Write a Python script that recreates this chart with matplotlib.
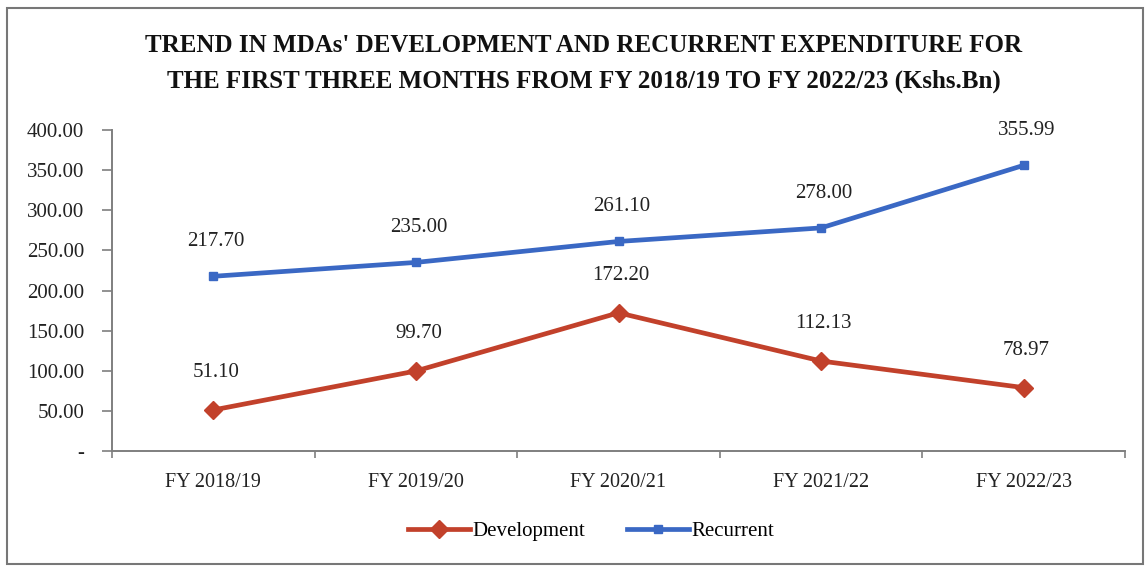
import matplotlib.pyplot as plt
import numpy as np
from matplotlib.patches import Rectangle

# MDAs development vs recurrent expenditure, first three months (Kshs.Bn)

years = ["FY 2018/19", "FY 2019/20", "FY 2020/21", "FY 2021/22", "FY 2022/23"]
development = [51.10, 99.70, 172.20, 112.13, 78.97]
recurrent = [217.70, 235.00, 261.10, 278.00, 355.99]
yticks = [0, 50, 100, 150, 200, 250, 300, 350, 400]

plt.rcParams['font.family'] = ['Liberation Serif', 'DejaVu Serif']

red = "#C2412B"
blue = "#3A68C4"
axcol = "#7f7f7f"

fig = plt.figure(figsize=(11.47, 5.66), dpi=100)
ax = fig.add_axes([112/1147, 1-451/566, (1125-112)/1147, (451-130)/566])

x = np.arange(len(years))
ax.plot(x, development, color=red, lw=3.4, marker="D", ms=9, label="Development")
ax.plot(x, recurrent, color=blue, lw=3.4, marker="s", ms=5.5, label="Recurrent")

for xi, v in zip(x, development):
    ax.annotate(f"{v:.2f}", (xi, v), xytext=(2, 20), textcoords="offset points",
                ha="center", va="bottom", fontsize=15, color="#222222")
for xi, v in zip(x, recurrent):
    ax.annotate(f"{v:.2f}", (xi, v), xytext=(2, 18), textcoords="offset points",
                ha="center", va="bottom", fontsize=15, color="#222222")

ax.set_xlim(-0.5, len(years) - 0.5)
ax.set_ylim(0, 400)
ax.set_yticks(yticks)
ax.set_yticklabels(["-"] + [f"{t:.2f}" for t in yticks[1:]], fontsize=15, color="#222222")
ax.set_xticks(x)
ax.set_xticklabels(years, fontsize=14.5, color="#222222")
ax.set_xticks(np.arange(-0.5, len(years)), minor=True)
ax.tick_params(axis="x", which="major", length=0, pad=16)
ax.tick_params(axis="x", which="minor", length=5, color=axcol, width=1.2)
ax.tick_params(axis="y", length=7, color=axcol, width=1.2, pad=13)

for s in ["top", "right"]:
    ax.spines[s].set_visible(False)
for s in ["left", "bottom"]:
    ax.spines[s].set_color(axcol)
    ax.spines[s].set_linewidth(1.4)

fig.text(0.509, 1-46/566, "TREND IN MDAs' DEVELOPMENT AND RECURRENT EXPENDITURE FOR",
         ha="center", va="center", fontsize=18, fontweight="bold", color="#111111")
fig.text(0.509, 1-81/566, "THE FIRST THREE MONTHS FROM FY 2018/19 TO FY 2022/23 (Kshs.Bn)",
         ha="center", va="center", fontsize=18, fontweight="bold", color="#111111")

fig.legend(loc="center", bbox_to_anchor=(0.515, 1-531/566), ncol=2, frameon=False,
           fontsize=15, handlelength=3.0, columnspacing=2.0, handletextpad=0.1)

fig.patches.append(Rectangle((7/1147, 2/566), (1143-7)/1147, (558-2)/566,
                             transform=fig.transFigure, fill=False,
                             edgecolor="#777777", lw=1.5))

fig.savefig("out.png", dpi=100)
